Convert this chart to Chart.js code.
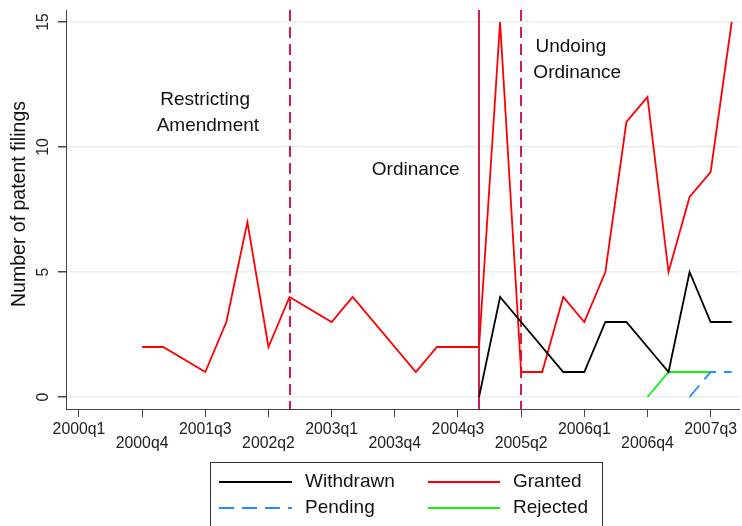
<!DOCTYPE html>
<html><head><meta charset="utf-8">
<script src="https://cdn.jsdelivr.net/npm/chart.js@4.4.1/dist/chart.umd.min.js"></script>
<style>html,body{margin:0;padding:0;background:#fff}#wrap{width:742px;height:526px;position:relative}</style>
</head><body><div id="wrap"><canvas id="c" width="742" height="526"></canvas></div>
<script>
// ---- data ----
const quarters = ['2000q1','2000q2','2000q3','2000q4','2001q1','2001q2','2001q3','2001q4',
  '2002q1','2002q2','2002q3','2002q4','2003q1','2003q2','2003q3','2003q4',
  '2004q1','2004q2','2004q3','2004q4','2005q1','2005q2','2005q3','2005q4',
  '2006q1','2006q2','2006q3','2006q4','2007q1','2007q2','2007q3','2007q4'];
const withdrawn = [null,null,null,null,null,null,null,null,null,null,null,null,null,null,null,null,
  null,null,null,0,4,null,null,1,1,3,3,null,1,5,3,3];
const pending = [null,null,null,null,null,null,null,null,null,null,null,null,null,null,null,null,
  null,null,null,null,null,null,null,null,null,null,null,null,null,0,1,1];
const granted = [null,null,null,2,2,null,1,3,7,2,4,null,3,4,null,null,
  1,2,2,2,15,1,1,4,3,5,11,12,5,8,9,15];
const rejected = [null,null,null,null,null,null,null,null,null,null,null,null,null,null,null,null,
  null,null,null,null,null,null,null,null,null,null,null,0,1,1,1,null];
const yTicks = [0,5,10,15];
const xTickLabels = ['2000q1','2000q4','2001q3','2002q2','2003q1','2003q4','2004q3','2005q2','2006q1','2006q4','2007q3'];
const eventQuarters = ['2002q3','2004q4','2005q2'];
const eventDashed = [true,false,true];
const noteTexts = ['Restricting','Amendment','Ordinance','Undoing','Ordinance'];
const notePos = [[3.86,11.68],[3.69,10.64],[13.91,8.88],[21.68,13.8],[21.58,12.76]];

const FONT = "'Liberation Sans', Arial, Helvetica, sans-serif";
Chart.defaults.font.family = FONT;
const idx = l => quarters.indexOf(l);
const pts = arr => arr.map((v,i)=>({x:i,y:v}));

const extras = {
  id:'extras',
  beforeDatasetsDraw(chart){
    const {ctx, chartArea:a, scales:{x}} = chart;
    ctx.save();
    ctx.strokeStyle = '#d81b4a';
    ctx.lineWidth = 2;
    eventQuarters.forEach((q,i)=>{
      const px = Math.round(x.getPixelForValue(idx(q)));
      ctx.setLineDash(eventDashed[i] ? [11,6] : []);
      ctx.beginPath(); ctx.moveTo(px, a.top); ctx.lineTo(px, a.bottom); ctx.stroke();
    });
    ctx.restore();
  },
  afterDraw(chart){
    const {ctx, scales:{x,y}} = chart;
    ctx.save();
    // y tick labels (rotated)
    ctx.fillStyle = '#222';
    ctx.font = `15.8px ${FONT}`;
    ctx.textAlign = 'center'; ctx.textBaseline = 'middle';
    yTicks.forEach(v=>{
      ctx.save(); ctx.translate(44, y.getPixelForValue(v)); ctx.rotate(-Math.PI/2);
      ctx.fillText(String(v), 0, 0); ctx.restore();
    });
    // y axis title
    ctx.font = `19.5px ${FONT}`;
    ctx.fillStyle = '#111';
    ctx.save(); ctx.translate(20, 204); ctx.rotate(-Math.PI/2);
    ctx.fillText('Number of patent filings', 0, 0); ctx.restore();
    // annotations
    ctx.font = `19px ${FONT}`;
    ctx.textAlign = 'left'; ctx.textBaseline = 'alphabetic';
    noteTexts.forEach((t,i)=>{
      ctx.fillText(t, x.getPixelForValue(notePos[i][0]), y.getPixelForValue(notePos[i][1]));
    });
    // legend
    const L = 210.5, T = 462.5, R = 602.5;
    ctx.strokeStyle = '#333'; ctx.lineWidth = 1; ctx.setLineDash([]);
    ctx.strokeRect(L, T, R-L, 80);
    const items = [[0,219,292,305,482],[1,219,292,305,508],[2,428,500,513,482],[3,428,500,513,508]];
    ctx.font = `19px ${FONT}`; ctx.textBaseline = 'middle'; ctx.fillStyle = '#111';
    items.forEach(([d,x1,x2,tx,ty])=>{
      const ds = chart.data.datasets[d];
      ctx.strokeStyle = ds.borderColor; ctx.lineWidth = ds.borderWidth;
      ctx.setLineDash(ds.borderDash || []);
      ctx.beginPath(); ctx.moveTo(x1, ty); ctx.lineTo(x2, ty); ctx.stroke();
      ctx.fillText(ds.label, tx, ty);
    });
    ctx.restore();
  }
};

new Chart(document.getElementById('c'), {
  type:'line',
  data:{datasets:[
    {label:'Withdrawn', data:pts(withdrawn), borderColor:'#000000', borderWidth:1.8},
    {label:'Pending', data:pts(pending), borderColor:'#1e8cff', borderWidth:1.8, borderDash:[15,8]},
    {label:'Granted', data:pts(granted), borderColor:'#ff0000', borderWidth:1.8},
    {label:'Rejected', data:pts(rejected), borderColor:'#11ee11', borderWidth:1.8}
  ]},
  options:{
    responsive:false, animation:false, devicePixelRatio:1,
    layout:{padding:{top:10,left:0,right:0,bottom:0}},
    elements:{point:{radius:0}, line:{tension:0}},
    spanGaps:true,
    plugins:{legend:{display:false}, tooltip:{enabled:false}},
    scales:{
      x:{type:'linear', min:-0.615, max:31.38,
        afterBuildTicks:s=>{s.ticks = xTickLabels.map(l=>({value:idx(l)}));},
        afterFit:s=>{s.height = 117;},
        ticks:{autoSkip:false, maxRotation:0, minRotation:0, padding:5, color:'#222',
          font:{size:15.8, lineHeight:0.93},
          callback:(v,i)=> i%2 ? ['', quarters[v]] : quarters[v]},
        grid:{drawOnChartArea:false, tickColor:'#444', tickLength:8},
        border:{color:'#444', width:1}
      },
      y:{min:-0.48, max:15.48,
        afterBuildTicks:s=>{s.ticks = yTicks.map(v=>({value:v}));},
        afterFit:s=>{s.width = 66;},
        ticks:{display:false},
        grid:{color:'#e6eff1', lineWidth:1.5, tickColor:'#444', tickLength:8},
        border:{color:'#444', width:1},
        title:{display:false}
      }
    }
  },
  plugins:[extras]
});
</script></body></html>
